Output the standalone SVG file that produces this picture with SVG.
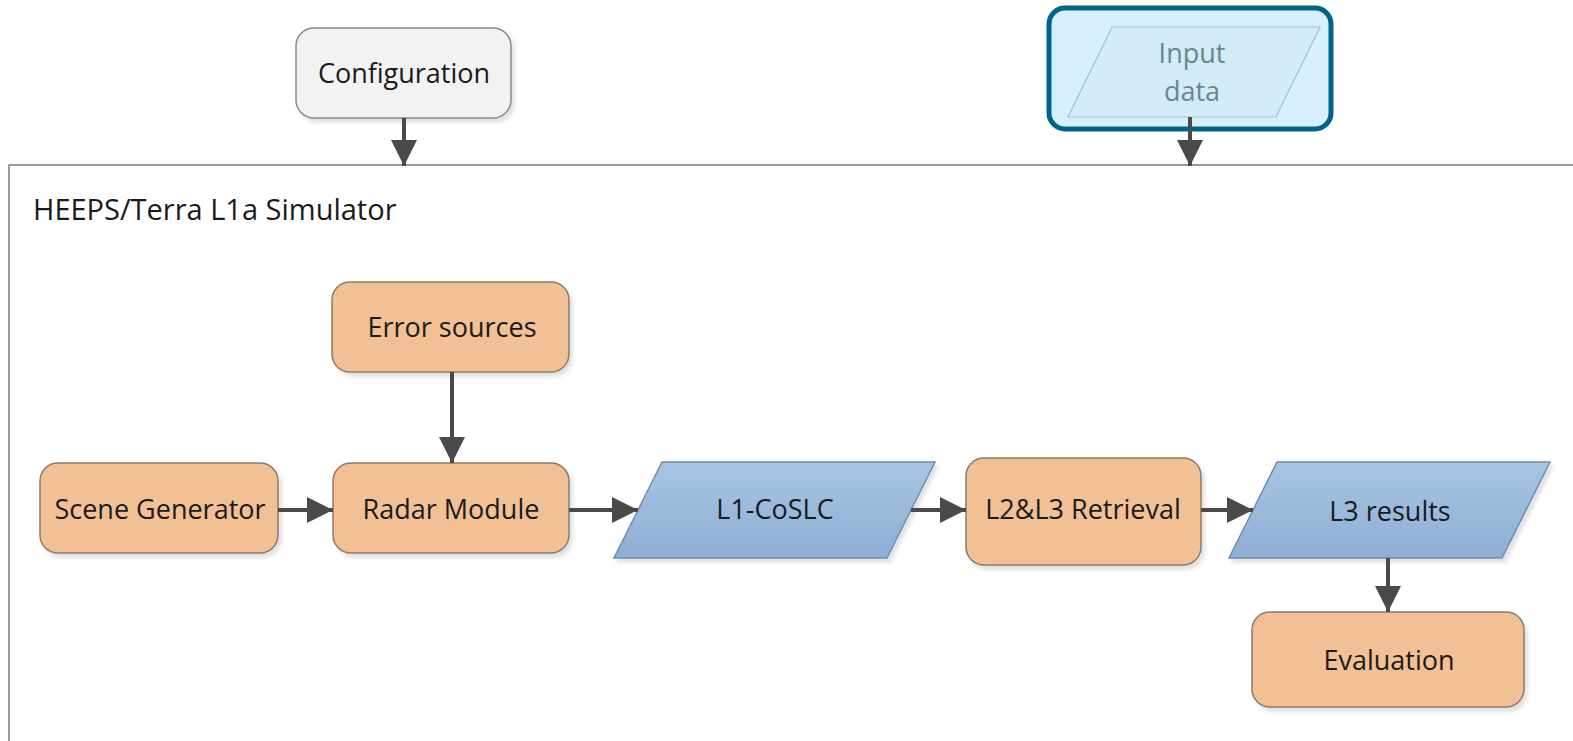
<svg xmlns="http://www.w3.org/2000/svg" width="1573" height="741" viewBox="0 0 1573 741">
<style>
text{font-family:"Open Sans","Liberation Sans",sans-serif;font-size:27px;fill:#1a1a1a;text-anchor:middle}
.proc{fill:#f2c095;stroke:#8c7a6a;stroke-width:1.5}
.data{fill:url(#bg);stroke:#6d8db3;stroke-width:1.5}
.conn{stroke:#4a4a4a;stroke-width:4;fill:none;marker-end:url(#ah)}
</style>
<defs>
<linearGradient id="bg" x1="0" y1="0" x2="0" y2="1"><stop offset="0" stop-color="#a7c4e2"/><stop offset="1" stop-color="#8eafd4"/></linearGradient>
<filter id="sh" x="-10%" y="-10%" width="130%" height="130%"><feDropShadow dx="3" dy="4" stdDeviation="2" flood-color="#000" flood-opacity="0.12"/></filter>
<marker id="ah" markerWidth="26" markerHeight="26" viewBox="0 0 26 26" refX="26" refY="13" orient="auto" markerUnits="userSpaceOnUse"><path d="M0,0 L26,13 L0,26 Z" fill="#4a4a4a"/></marker>
</defs>
<rect width="1573" height="741" fill="#fff"/>
<g id="frame">
<rect x="9" y="165" width="1580" height="600" fill="#fff" stroke="#7a7a7a" stroke-width="1.5"/>
<text x="33" y="220" style="text-anchor:start;font-size:29px">HEEPS/Terra L1a Simulator</text>
</g>
<g id="configuration">
<rect x="296" y="28" width="215" height="90" rx="18" fill="#f2f2f2" stroke="#8a8a8a" stroke-width="1.5" filter="url(#sh)"/>
<text x="404" y="83">Configuration</text>
</g>
<g id="input-data">
<rect x="1049" y="8" width="282" height="121" rx="16" fill="#d8f0fb" stroke="#00648a" stroke-width="5"/>
<polygon points="1112,27 1320,27 1276,117 1068,117" fill="#d3ecf8" stroke="#9cc0cf" stroke-width="1.2"/>
<text x="1192" y="63" style="fill:#6a8590">Input</text>
<text x="1192" y="101" style="fill:#6a8590">data</text>
</g>
<g id="error-sources">
<rect x="332" y="282" width="237" height="90" rx="18" class="proc" filter="url(#sh)"/>
<text x="452" y="337">Error sources</text>
</g>
<g id="scene-generator">
<rect x="40" y="463" width="238" height="90" rx="18" class="proc" filter="url(#sh)"/>
<text x="160" y="519">Scene Generator</text>
</g>
<g id="radar-module">
<rect x="333" y="463" width="236" height="90" rx="18" class="proc" filter="url(#sh)"/>
<text x="451" y="519">Radar Module</text>
</g>
<g id="l1-coslc">
<polygon points="662,462 935,462 887,558 614,558" class="data" filter="url(#sh)"/>
<text x="775" y="519">L1-CoSLC</text>
</g>
<g id="l2l3-retrieval">
<rect x="966" y="458" width="235" height="107" rx="18" class="proc" filter="url(#sh)"/>
<text x="1083" y="519">L2&amp;L3 Retrieval</text>
</g>
<g id="l3-results">
<polygon points="1277,462 1550,462 1502,558 1229,558" class="data" filter="url(#sh)"/>
<text x="1390" y="521">L3 results</text>
</g>
<g id="evaluation">
<rect x="1252" y="612" width="272" height="95" rx="18" class="proc" filter="url(#sh)"/>
<text x="1389" y="670">Evaluation</text>
</g>
<g id="connectors">
<line x1="404" y1="118" x2="404" y2="166" class="conn"/>
<line x1="1190" y1="117" x2="1190" y2="166" class="conn"/>
<line x1="452" y1="372" x2="452" y2="463" class="conn"/>
<line x1="278" y1="510" x2="333" y2="510" class="conn"/>
<line x1="569" y1="510" x2="638" y2="510" class="conn"/>
<line x1="911" y1="510" x2="966" y2="510" class="conn"/>
<line x1="1201" y1="510" x2="1253" y2="510" class="conn"/>
<line x1="1388" y1="558" x2="1388" y2="612" class="conn"/>
</g>
</svg>
